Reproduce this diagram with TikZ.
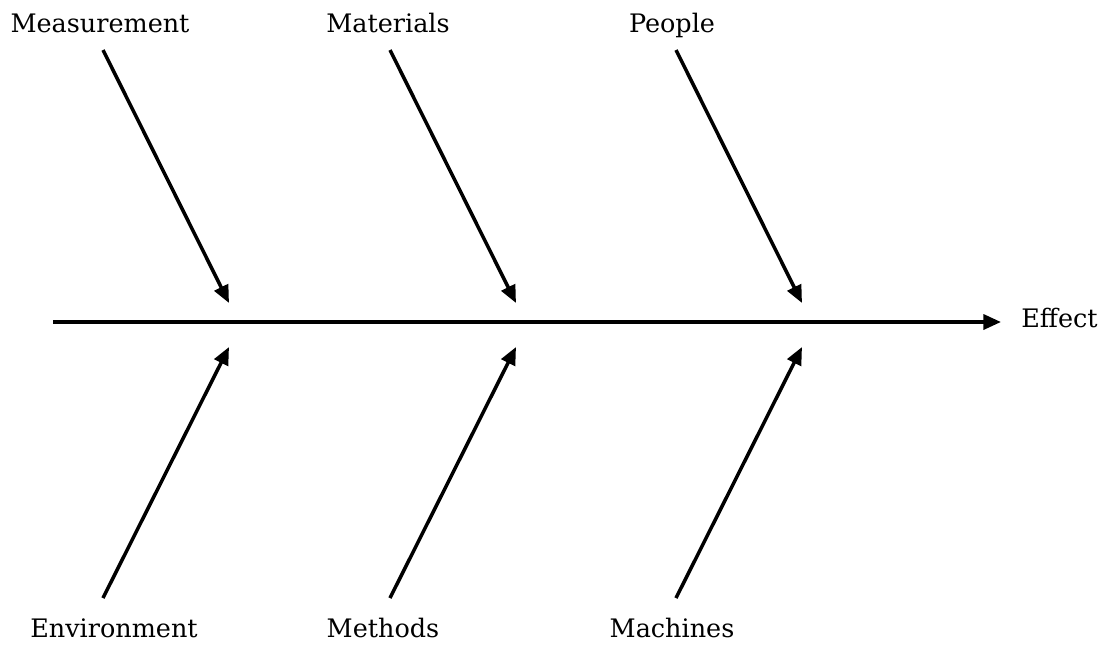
\documentclass[tikz,border=0pt]{standalone}
\usepackage{fontspec}
\setmainfont{DejaVu Serif}
\usetikzlibrary{arrows.meta}

\begin{document}
\begin{tikzpicture}[x=0.02cm, y=-0.02cm,
    every node/.style={font=\fontsize{14.5}{17}\selectfont, inner sep=0pt, anchor=base},
    bone/.style={line width=2pt, -{Triangle[length=10pt, width=8.5pt]}}]
  \useasboundingbox (0,0) rectangle (1105,646);
  % spine
  \coordinate (tail) at (53,322);
  \coordinate (head) at (1001,322);
  \draw[bone] (tail) -- (head);
  \node[anchor=base west] (effect) at (1021,327) {Effect};
  % upper causes
  \foreach \n/\x/\lx/\txt in {meas/103/100/Measurement, mat/390/388/Materials, peo/676/672/People} {
    \node (\n) at (\lx,32) {\txt};
    \coordinate (\n-s) at (\x,50);
    \coordinate (\n-e) at (\x+126,303);
    \draw[bone] (\n-s) -- (\n-e);
  }
  % lower causes
  \foreach \n/\x/\lx/\txt in {env/103/114/Environment, meth/390/383/Methods, mach/676/672/Machines} {
    \node (\n) at (\lx,637) {\txt};
    \coordinate (\n-s) at (\x,598);
    \coordinate (\n-e) at (\x+126,347);
    \draw[bone] (\n-s) -- (\n-e);
  }
\end{tikzpicture}
\end{document}
